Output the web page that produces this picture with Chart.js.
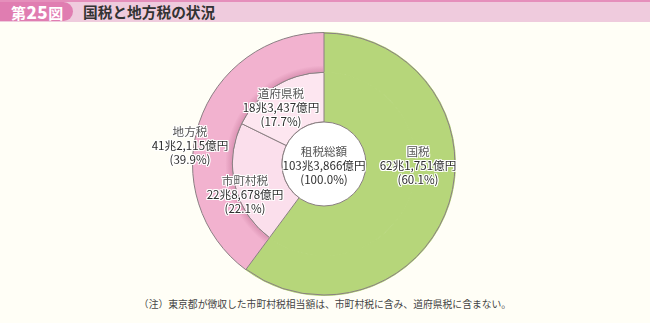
<!DOCTYPE html>
<html><head><meta charset="utf-8">
<script src="https://cdn.jsdelivr.net/npm/chart.js@4/dist/chart.umd.min.js"></script>
<style>
html,body{margin:0;padding:0}
body{width:650px;height:323px;background:#fffef6;overflow:hidden;position:relative;font-family:"Noto Sans CJK JP","Noto Sans",sans-serif}
#hdr{position:absolute;left:0;top:0;width:650px;height:22px;background:#efcbdd;border-top:2px solid #e58fbb;box-sizing:border-box}
#tab{position:absolute;left:0;top:2px;width:73px;height:19px;background:#e07db1;border-radius:0 10px 10px 0;color:#fff;font-weight:bold;font-size:15px;line-height:19px;padding-left:11px;box-sizing:border-box;letter-spacing:0.5px}
#tab b{font-size:17px;letter-spacing:0.5px}
#title{position:absolute;left:83px;top:1px;font-size:14.7px;font-weight:bold;color:#333;line-height:22px}
#wrap{position:absolute;left:192px;top:32px;width:264px;height:264px}
.lab{position:absolute;transform:translate(-50%,-50%);text-align:center;font-size:11.6px;line-height:14px;color:#2e2e2e;white-space:nowrap;
text-shadow:1px 0 0 #fff,-1px 0 0 #fff,0 1px 0 #fff,0 -1px 0 #fff,1px 1px 0 #fff,-1px -1px 0 #fff,1px -1px 0 #fff,-1px 1px 0 #fff}
.lab .n{color:#555}
#note{position:absolute;left:0;width:650px;top:297px;text-align:center;font-size:9.8px;color:#444;line-height:14px}
</style></head>
<body>
<div id="hdr"></div>
<div id="tab">第<b>25</b>図</div>
<div id="title">国税と地方税の状況</div>
<div id="wrap"><canvas id="c"></canvas></div>
<div id="labels"></div>
<div id="note">（注）東京都が徴収した市町村税相当額は、市町村税に含み、道府県税に含まない。</div>
<script>
// values in 億円
const outerLabels = ["国税", "地方税"];
const outerValues = [621751, 412115];
const innerLabels = ["国税", "市町村税", "道府県税"];
const innerValues = [621751, 228678, 183437];
const totalLabel = "租税総額";
const totalValue = 1033866;
const valueTexts = {"国税":"62兆1,751億円","地方税":"41兆2,115億円","市町村税":"22兆8,678億円","道府県税":"18兆3,437億円","租税総額":"103兆3,866億円"};
const pctTexts = {"国税":"(60.1%)","地方税":"(39.9%)","市町村税":"(22.1%)","道府県税":"(17.7%)","租税総額":"(100.0%)"};

const GREEN = "#b6d67a", PINK = "#f2b2cf", PALE1 = "#fbdfec", PALE2 = "#fde6f0", LINE = "#8a7f82";

const ringPlugin = {
  id: "ringPlugin",
  beforeDatasetDraw(chart, args) {
    // soft shadow on outer pink ring along the inner ring's edge
    if (args.index !== 0) return;
  },
  afterDatasetsDraw(chart) {
    const ctx = chart.ctx;
    const m0 = chart.getDatasetMeta(0).data[0];
    const p0 = chart.getDatasetMeta(0).data[1];
    const m1 = chart.getDatasetMeta(1).data[0];
    ctx.save();
    // shadow band inside pink outer ring
    const r0 = p0.innerRadius, r1 = p0.innerRadius + 7;
    const g = ctx.createRadialGradient(p0.x, p0.y, r0, p0.x, p0.y, r1);
    g.addColorStop(0, "rgba(160,70,110,0.28)");
    g.addColorStop(1, "rgba(160,70,110,0)");
    ctx.beginPath();
    ctx.arc(p0.x, p0.y, r1, p0.startAngle + 0.01, p0.endAngle - 0.01);
    ctx.arc(p0.x, p0.y, r0 + 0.5, p0.endAngle - 0.01, p0.startAngle + 0.01, true);
    ctx.closePath();
    ctx.fillStyle = g; ctx.fill();
    // outer edge of green slice
    ctx.strokeStyle = LINE; ctx.lineWidth = 1;
    ctx.beginPath();
    ctx.arc(m0.x, m0.y, m0.outerRadius - 0.5, m0.startAngle, m0.endAngle);
    ctx.stroke();
    // center white circle
    ctx.beginPath();
    ctx.arc(m1.x, m1.y, m1.innerRadius, 0, Math.PI * 2);
    ctx.fillStyle = "#ffffff"; ctx.fill();
    ctx.strokeStyle = LINE; ctx.stroke();
    ctx.restore();
  }
};

const chart = new Chart(document.getElementById("c"), {
  type: "doughnut",
  data: {
    labels: innerLabels,
    datasets: [
      { data: outerValues, weight: 40,
        backgroundColor: [GREEN, PINK],
        borderColor: [GREEN, LINE], borderWidth: [1, 1] },
      { data: innerValues, weight: 50,
        backgroundColor: [GREEN, PALE1, PALE2],
        borderColor: [GREEN, LINE, LINE], borderWidth: [1, 1, 1] }
    ]
  },
  options: {
    responsive: true, maintainAspectRatio: false, animation: false,
    cutout: 42,
    layout: { padding: 0 },
    plugins: { legend: { display: false }, tooltip: { enabled: false } }
  },
  plugins: [ringPlugin]
});

// labels (text positions in page pixels)
const labelPos = [
  ["国税", 418, 165],
  ["地方税", 190, 145],
  ["道府県税", 281, 107],
  ["市町村税", 245, 194],
  ["租税総額", 324, 165]
];
const holder = document.getElementById("labels");
labelPos.forEach(([name, x, y]) => {
  const d = document.createElement("div");
  d.className = "lab";
  d.style.left = x + "px"; d.style.top = y + "px";
  d.innerHTML = '<span class="n">' + name + '</span><br>' + valueTexts[name] + '<br>' + pctTexts[name];
  holder.appendChild(d);
});
</script>
</body></html>
